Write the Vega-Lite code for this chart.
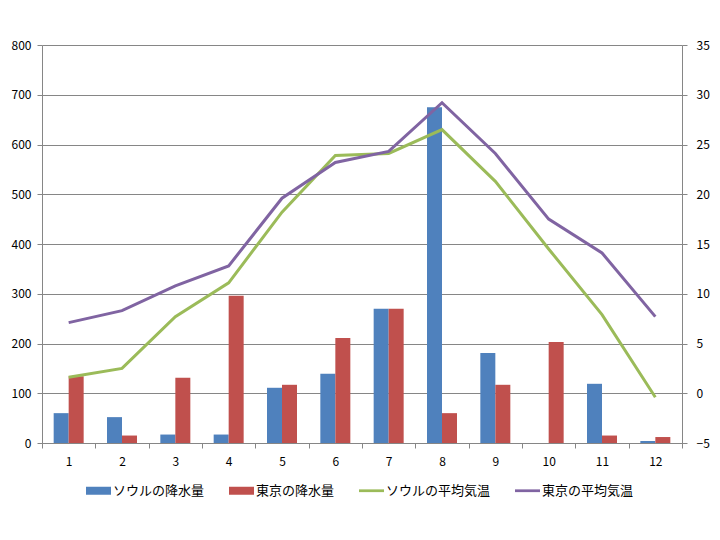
{
  "$schema": "https://vega.github.io/schema/vega-lite/v6.json",
  "width": 640,
  "height": 398,
  "autosize": {"type": "none"},
  "padding": {"left": 42, "top": 45, "right": 38, "bottom": 97},
  "background": "white",
  "config": {
    "view": {"stroke": null},
    "font": "Noto Sans CJK JP",
    "axis": {
      "labelFont": "Noto Sans CJK JP",
      "labelFontSize": 12,
      "labelColor": "#000000",
      "domainColor": "#868686",
      "tickColor": "#868686",
      "tickSize": 5,
      "title": null
    }
  },
  "data": {
    "values": [
      {"month": 1, "series": "ソウルの降水量", "kind": "precip", "value": 60},
      {"month": 2, "series": "ソウルの降水量", "kind": "precip", "value": 52},
      {"month": 3, "series": "ソウルの降水量", "kind": "precip", "value": 17},
      {"month": 4, "series": "ソウルの降水量", "kind": "precip", "value": 17},
      {"month": 5, "series": "ソウルの降水量", "kind": "precip", "value": 111},
      {"month": 6, "series": "ソウルの降水量", "kind": "precip", "value": 139},
      {"month": 7, "series": "ソウルの降水量", "kind": "precip", "value": 270},
      {"month": 8, "series": "ソウルの降水量", "kind": "precip", "value": 675},
      {"month": 9, "series": "ソウルの降水量", "kind": "precip", "value": 181},
      {"month": 10, "series": "ソウルの降水量", "kind": "precip", "value": 0},
      {"month": 11, "series": "ソウルの降水量", "kind": "precip", "value": 119},
      {"month": 12, "series": "ソウルの降水量", "kind": "precip", "value": 4},
      {"month": 1, "series": "東京の降水量", "kind": "precip", "value": 134},
      {"month": 2, "series": "東京の降水量", "kind": "precip", "value": 15},
      {"month": 3, "series": "東京の降水量", "kind": "precip", "value": 131},
      {"month": 4, "series": "東京の降水量", "kind": "precip", "value": 296},
      {"month": 5, "series": "東京の降水量", "kind": "precip", "value": 117},
      {"month": 6, "series": "東京の降水量", "kind": "precip", "value": 211},
      {"month": 7, "series": "東京の降水量", "kind": "precip", "value": 270},
      {"month": 8, "series": "東京の降水量", "kind": "precip", "value": 60},
      {"month": 9, "series": "東京の降水量", "kind": "precip", "value": 117},
      {"month": 10, "series": "東京の降水量", "kind": "precip", "value": 203},
      {"month": 11, "series": "東京の降水量", "kind": "precip", "value": 15},
      {"month": 12, "series": "東京の降水量", "kind": "precip", "value": 12},
      {"month": 1, "series": "ソウルの平均気温", "kind": "temp", "value": 1.6},
      {"month": 2, "series": "ソウルの平均気温", "kind": "temp", "value": 2.5},
      {"month": 3, "series": "ソウルの平均気温", "kind": "temp", "value": 7.7},
      {"month": 4, "series": "ソウルの平均気温", "kind": "temp", "value": 11.1},
      {"month": 5, "series": "ソウルの平均気温", "kind": "temp", "value": 18.2},
      {"month": 6, "series": "ソウルの平均気温", "kind": "temp", "value": 23.9},
      {"month": 7, "series": "ソウルの平均気温", "kind": "temp", "value": 24.1},
      {"month": 8, "series": "ソウルの平均気温", "kind": "temp", "value": 26.5},
      {"month": 9, "series": "ソウルの平均気温", "kind": "temp", "value": 21.3},
      {"month": 10, "series": "ソウルの平均気温", "kind": "temp", "value": 14.5},
      {"month": 11, "series": "ソウルの平均気温", "kind": "temp", "value": 7.9},
      {"month": 12, "series": "ソウルの平均気温", "kind": "temp", "value": -0.4},
      {"month": 1, "series": "東京の平均気温", "kind": "temp", "value": 7.1},
      {"month": 2, "series": "東京の平均気温", "kind": "temp", "value": 8.3},
      {"month": 3, "series": "東京の平均気温", "kind": "temp", "value": 10.8},
      {"month": 4, "series": "東京の平均気温", "kind": "temp", "value": 12.8},
      {"month": 5, "series": "東京の平均気温", "kind": "temp", "value": 19.6},
      {"month": 6, "series": "東京の平均気温", "kind": "temp", "value": 23.2},
      {"month": 7, "series": "東京の平均気温", "kind": "temp", "value": 24.3},
      {"month": 8, "series": "東京の平均気温", "kind": "temp", "value": 29.2},
      {"month": 9, "series": "東京の平均気温", "kind": "temp", "value": 24.1},
      {"month": 10, "series": "東京の平均気温", "kind": "temp", "value": 17.5},
      {"month": 11, "series": "東京の平均気温", "kind": "temp", "value": 14.1},
      {"month": 12, "series": "東京の平均気温", "kind": "temp", "value": 7.7}
    ]
  },
  "layer": [
    {
      "transform": [{"filter": "datum.kind === 'precip'"}],
      "mark": {"type": "bar"},
      "encoding": {
        "x": {
          "field": "month",
          "type": "ordinal",
          "scale": {"paddingInner": 0, "paddingOuter": 0},
          "axis": {"labelAngle": 0, "tickBand": "extent", "labelPadding": 8, "grid": false}
        },
        "xOffset": {
          "field": "series",
          "type": "nominal",
          "sort": ["ソウルの降水量", "東京の降水量"],
          "scale": {"paddingInner": 0, "paddingOuter": 0.7778}
        },
        "y": {
          "field": "value",
          "type": "quantitative",
          "scale": {"domain": [0, 800], "nice": false, "zero": true},
          "axis": {
            "values": [0, 100, 200, 300, 400, 500, 600, 700, 800],
            "grid": true,
            "gridColor": "#868686",
            "gridOpacity": 1,
            "labelPadding": 6
          }
        },
        "color": {
          "field": "series",
          "type": "nominal",
          "scale": {
            "domain": ["ソウルの降水量", "東京の降水量", "ソウルの平均気温", "東京の平均気温"],
            "range": ["#4F81BD", "#C0504D", "#9BBB59", "#8064A2"]
          },
          "legend": {
            "orient": "none",
            "legendX": 44,
            "legendY": 433,
            "direction": "horizontal",
            "columns": 4,
            "title": null,
            "symbolSize": 625,
            "symbolStrokeWidth": 0,
            "labelFontSize": 13,
            "labelFont": "Noto Sans CJK JP",
            "labelColor": "#000000",
            "columnPadding": 24,
            "labelOffset": 2,
            "padding": 0,
            "encode": {
              "symbols": {
                "update": {
                  "shape": {"signal": "test(/降水量/, datum.value) ? 'M-1,-0.32H1V0.32H-1Z' : 'M-1,-0.11H1V0.11H-1Z'"},
                  "fill": {"scale": "color", "field": "value"},
                  "stroke": {"value": "transparent"},
                  "strokeWidth": {"value": 0},
                  "size": {"value": 625},
                  "opacity": {"value": 1}
                }
              }
            }
          }
        }
      }
    },
    {
      "transform": [{"filter": "datum.kind === 'temp'"}],
      "mark": {"type": "line", "strokeWidth": 3},
      "encoding": {
        "x": {"field": "month", "type": "ordinal"},
        "y": {
          "field": "value",
          "type": "quantitative",
          "scale": {"domain": [-5, 35], "nice": false, "zero": false},
          "axis": {
            "orient": "right",
            "values": [-5, 0, 5, 10, 15, 20, 25, 30, 35],
            "grid": false,
            "labelPadding": 9
          }
        },
        "color": {"field": "series", "type": "nominal"}
      }
    }
  ],
  "resolve": {"scale": {"y": "independent"}}
}
